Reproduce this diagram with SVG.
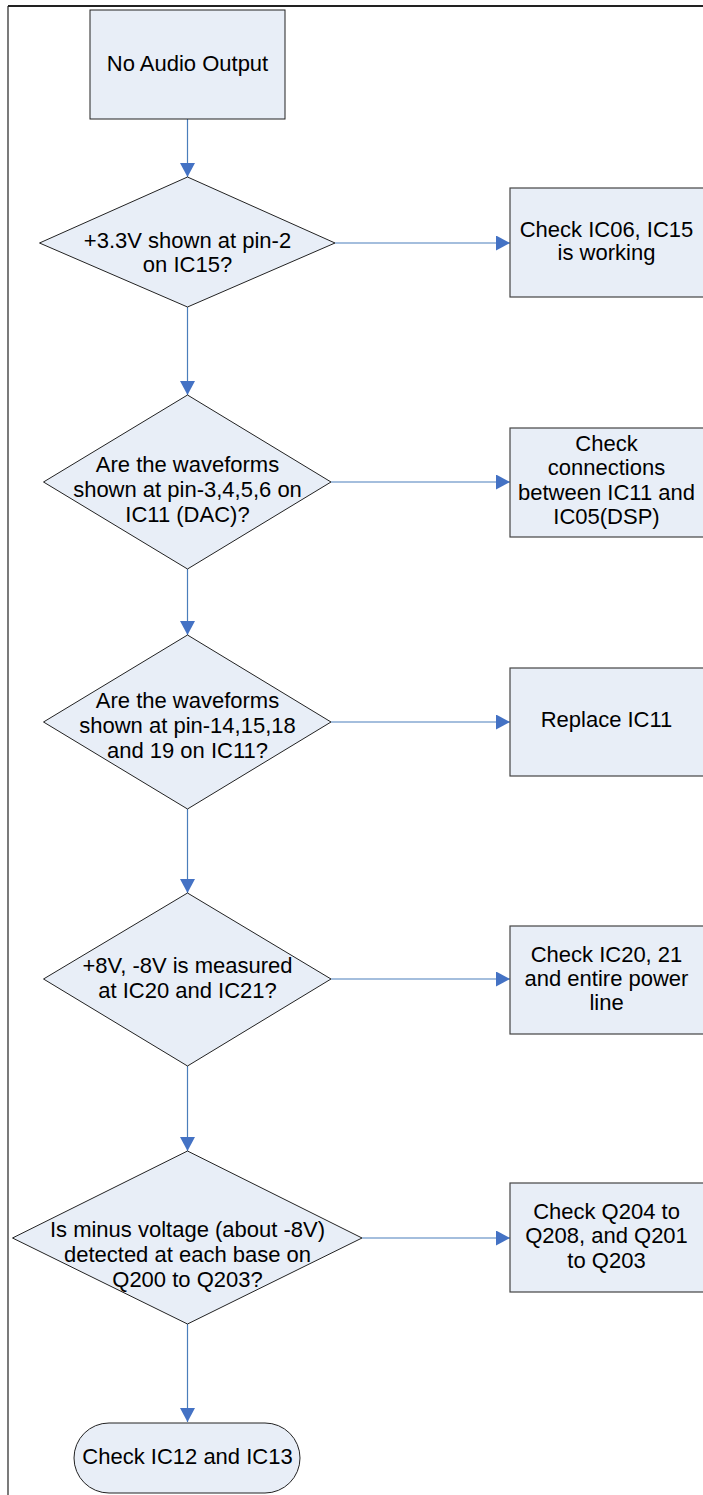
<svg xmlns="http://www.w3.org/2000/svg" width="703" height="1495" viewBox="0 0 703 1495">
<style>
.n{fill:#E8EEF7;stroke:#222;stroke-width:1}
.r{fill:#E8EEF7;stroke:#444;stroke-width:1.2}
.t{font-family:"Liberation Sans",Arial,sans-serif;font-size:22px;fill:#000;text-anchor:middle}
.c{stroke:#4A7EBB;stroke-width:1.2;fill:none;marker-end:url(#ah)}
</style>
<defs>
<marker id="ah" viewBox="0 0 14 15" refX="14" refY="7.5" markerWidth="14" markerHeight="15" markerUnits="userSpaceOnUse" orient="auto">
<path d="M0,0 L14,7.5 L0,15 Z" fill="#4472C4"/>
</marker>
</defs>
<rect width="703" height="1495" fill="#fff"/>
<g id="frame">
<line x1="8" y1="6" x2="703" y2="6" stroke="#222" stroke-width="2"/>
<line x1="8" y1="6" x2="8" y2="1495" stroke="#222" stroke-width="1.2"/>
</g>
<g id="connectors">
<line class="c" x1="187.5" y1="119" x2="187.5" y2="177"/>
<line class="c" x1="187.5" y1="307" x2="187.5" y2="395"/>
<line class="c" x1="187.5" y1="569" x2="187.5" y2="635"/>
<line class="c" x1="187.5" y1="809" x2="187.5" y2="893"/>
<line class="c" x1="187.5" y1="1066" x2="187.5" y2="1151"/>
<line class="c" x1="187.5" y1="1324" x2="187.5" y2="1422"/>
<line class="c" x1="335" y1="243" x2="510" y2="243"/>
<line class="c" x1="331" y1="482" x2="510" y2="482"/>
<line class="c" x1="331" y1="722" x2="510" y2="722"/>
<line class="c" x1="331" y1="979" x2="510" y2="979"/>
<line class="c" x1="362" y1="1238" x2="510" y2="1238"/>
</g>
<g id="start">
<rect class="n" x="90" y="10" width="195" height="109"/>
<text class="t" x="187.5" y="71">No Audio Output</text>
</g>
<g id="d1">
<polygon class="n" points="187.5,177 335,243 187.5,307 39.5,243"/>
<text class="t" x="187.5" y="248">+3.3V shown at pin-2</text>
<text class="t" x="187.5" y="272">on IC15?</text>
</g>
<g id="b1">
<rect class="r" x="510" y="188" width="196" height="109"/>
<text class="t" x="606.5" y="237">Check IC06, IC15</text>
<text class="t" x="606.5" y="260">is working</text>
</g>
<g id="d2">
<polygon class="n" points="187.5,395 331,482 187.5,569 43.5,482"/>
<text class="t" x="187.5" y="472">Are the waveforms</text>
<text class="t" x="187.5" y="497">shown at pin-3,4,5,6 on</text>
<text class="t" x="187.5" y="522">IC11 (DAC)?</text>
</g>
<g id="b2">
<rect class="r" x="510" y="428" width="196" height="109"/>
<text class="t" x="606.5" y="451">Check</text>
<text class="t" x="606.5" y="475">connections</text>
<text class="t" x="606.5" y="500">between IC11 and</text>
<text class="t" x="606.5" y="524">IC05(DSP)</text>
</g>
<g id="d3">
<polygon class="n" points="187.5,635 331,722 187.5,809 43.5,722"/>
<text class="t" x="187.5" y="708">Are the waveforms</text>
<text class="t" x="187.5" y="733">shown at pin-14,15,18</text>
<text class="t" x="187.5" y="758">and 19 on IC11?</text>
</g>
<g id="b3">
<rect class="r" x="510" y="668" width="196" height="108"/>
<text class="t" x="606.5" y="727">Replace IC11</text>
</g>
<g id="d4">
<polygon class="n" points="187.5,893 331,979 187.5,1066 43.5,979"/>
<text class="t" x="187.5" y="973">+8V, -8V is measured</text>
<text class="t" x="187.5" y="998">at IC20 and IC21?</text>
</g>
<g id="b4">
<rect class="r" x="510" y="926" width="196" height="108"/>
<text class="t" x="606.5" y="962">Check IC20, 21</text>
<text class="t" x="606.5" y="986">and entire power</text>
<text class="t" x="606.5" y="1010">line</text>
</g>
<g id="d5">
<polygon class="n" points="187.5,1151 362,1238 187.5,1324 12.5,1238"/>
<text class="t" x="187.5" y="1237">Is minus voltage (about -8V)</text>
<text class="t" x="187.5" y="1262">detected at each base on</text>
<text class="t" x="187.5" y="1287">Q200 to Q203?</text>
</g>
<g id="b5">
<rect class="r" x="510" y="1183" width="196" height="109"/>
<text class="t" x="606.5" y="1219">Check Q204 to</text>
<text class="t" x="606.5" y="1243">Q208, and Q201</text>
<text class="t" x="606.5" y="1268">to Q203</text>
</g>
<g id="end">
<rect class="n" x="74" y="1423" width="226" height="70" rx="35" ry="35"/>
<text class="t" x="187.5" y="1464">Check IC12 and IC13</text>
</g>
</svg>
